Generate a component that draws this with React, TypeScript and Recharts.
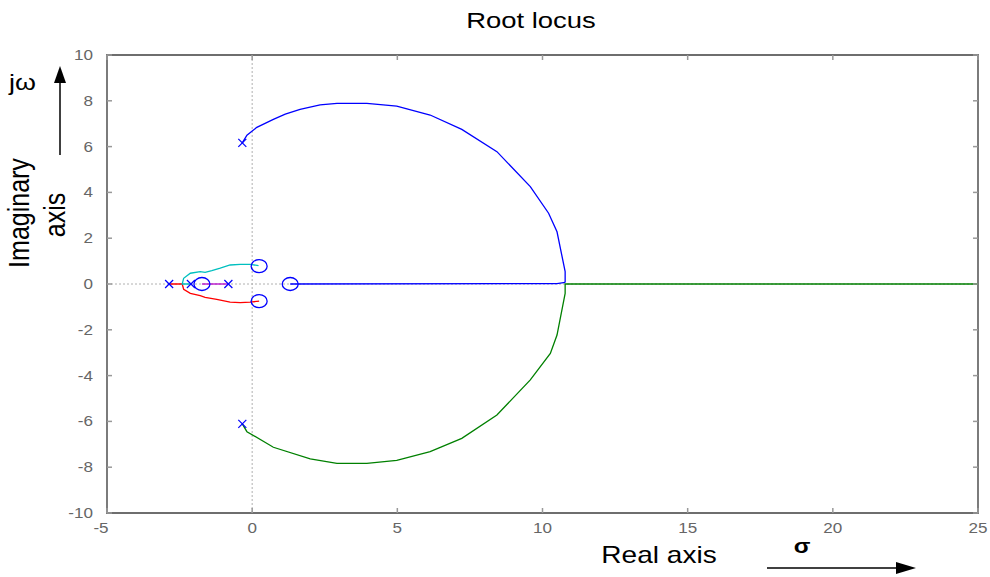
import React from 'react';
import {
  ScatterChart,
  Scatter,
  XAxis,
  YAxis,
  ReferenceLine,
  ReferenceArea,
} from 'recharts';

// Root locus branches, as (sigma, j omega) points
const upperBranch = [
  { x: -0.34, y: 6.16 }, { x: -0.18, y: 6.5 }, { x: 0.16, y: 6.84 }, { x: 0.73, y: 7.19 },
  { x: 1.14, y: 7.42 }, { x: 1.65, y: 7.63 }, { x: 2.34, y: 7.82 }, { x: 2.92, y: 7.89 },
  { x: 3.95, y: 7.89 }, { x: 4.98, y: 7.77 }, { x: 6.13, y: 7.38 }, { x: 7.22, y: 6.75 },
  { x: 8.43, y: 5.78 }, { x: 9.58, y: 4.25 }, { x: 10.21, y: 3.09 }, { x: 10.5, y: 2.28 },
  { x: 10.78, y: 0.54 }, { x: 10.78, y: 0.07 },
];

const realAxisBranch = [
  { x: 1.31, y: 0 }, { x: 10.5, y: 0.02 }, { x: 10.78, y: 0.07 },
];

const lowerBranch = [
  { x: -0.34, y: -6.11 }, { x: -0.18, y: -6.45 }, { x: 0.73, y: -7.13 }, { x: 2.0, y: -7.64 },
  { x: 2.92, y: -7.83 }, { x: 3.95, y: -7.83 }, { x: 4.98, y: -7.7 }, { x: 6.13, y: -7.32 },
  { x: 7.22, y: -6.74 }, { x: 8.43, y: -5.72 }, { x: 9.58, y: -4.19 }, { x: 10.27, y: -3.03 },
  { x: 10.5, y: -2.23 }, { x: 10.78, y: -0.41 }, { x: 10.78, y: 0 }, { x: 25, y: 0 },
];

const redBranch = [
  { x: -2.86, y: 0 }, { x: -2.41, y: 0 }, { x: -2.36, y: -0.23 }, { x: -2.13, y: -0.41 },
  { x: -1.79, y: -0.51 }, { x: -1.62, y: -0.58 }, { x: -1.22, y: -0.67 }, { x: -0.76, y: -0.79 },
  { x: -0.41, y: -0.81 }, { x: -0.07, y: -0.79 }, { x: 0.16, y: -0.76 }, { x: 0.24, y: -0.75 },
];

const cyanBranch = [
  { x: -2.11, y: 0 }, { x: -2.41, y: 0 }, { x: -2.36, y: 0.25 }, { x: -2.13, y: 0.47 },
  { x: -1.79, y: 0.54 }, { x: -1.62, y: 0.51 }, { x: -1.39, y: 0.58 }, { x: -1.1, y: 0.69 },
  { x: -0.76, y: 0.83 }, { x: -0.41, y: 0.86 }, { x: -0.07, y: 0.86 }, { x: 0.22, y: 0.8 },
];

const magentaBranch = [
  { x: -1.73, y: 0 }, { x: -0.82, y: 0 },
];

const poles = [
  { x: -2.86, y: 0 }, { x: -2.11, y: 0 }, { x: -0.82, y: 0 },
  { x: -0.34, y: 6.16 }, { x: -0.34, y: -6.11 },
];

const zeros = [
  { x: -1.73, y: 0 }, { x: 0.24, y: 0.78 }, { x: 0.24, y: -0.75 }, { x: 1.31, y: 0 },
];

const xTicks = [-5, 0, 5, 10, 15, 20, 25];
const yTicks = [-10, -8, -6, -4, -2, 0, 2, 4, 6, 8, 10];

// layout
const W = 990;
const H = 577;
const PLOT_LEFT = 107;
const PLOT_RIGHT = 978;
const PLOT_TOP = 55;
const PLOT_BOTTOM = 513;
const STRETCH = 1.22;
const FONT = 'Liberation Sans, Arial, sans-serif';

const tickColor = '#999';
const labelColor = '#666';

const XTick = (props: any) => {
  const x = props.x;
  const v = props.payload.value;
  // negative labels sit slightly left so the digit lines up with the tick
  const shift = v < 0 ? -6 : 0;
  return (
    <g>
      <line x1={x} x2={x} y1={PLOT_BOTTOM} y2={PLOT_BOTTOM - 5} stroke={tickColor} strokeWidth={1.5} />
      <line x1={x} x2={x} y1={PLOT_TOP} y2={PLOT_TOP + 5} stroke={tickColor} strokeWidth={1.5} />
      <text
        transform={`translate(${x + shift},${PLOT_BOTTOM + 20}) scale(${STRETCH},1)`}
        textAnchor="middle"
        fontFamily={FONT}
        fontSize={14}
        fill={labelColor}
      >
        {v}
      </text>
    </g>
  );
};

const YTick = (props: any) => {
  const y = props.y;
  return (
    <g>
      <line x1={PLOT_LEFT} x2={PLOT_LEFT + 5} y1={y} y2={y} stroke={tickColor} strokeWidth={1.5} />
      <line x1={PLOT_RIGHT} x2={PLOT_RIGHT - 5} y1={y} y2={y} stroke={tickColor} strokeWidth={1.5} />
      <text
        transform={`translate(${PLOT_LEFT - 14},${y + 5}) scale(${STRETCH},1)`}
        textAnchor="end"
        fontFamily={FONT}
        fontSize={14}
        fill={labelColor}
      >
        {props.payload.value}
      </text>
    </g>
  );
};

const Empty = () => <g />;

const PoleMark = (props: any) => {
  const { cx, cy } = props;
  const s = 4;
  return (
    <g stroke="#0000ff" strokeWidth={1.2}>
      <line x1={cx - s} y1={cy - s} x2={cx + s} y2={cy + s} />
      <line x1={cx - s} y1={cy + s} x2={cx + s} y2={cy - s} />
    </g>
  );
};

const ZeroMark = (props: any) => {
  const { cx, cy } = props;
  return <ellipse cx={cx} cy={cy} rx={8} ry={6.5} fill="none" stroke="#0000ff" strokeWidth={1.3} />;
};

const branch = (data: { x: number; y: number }[], color: string, key: string) => (
  <Scatter
    key={key}
    data={data}
    fill={color}
    line={{ stroke: color, strokeWidth: 1.3 }}
    shape={Empty}
    isAnimationActive={false}
    legendType="none"
  />
);

export default function App() {
  return (
    <div style={{ position: 'absolute', left: 0, top: 0, width: W, height: H, background: '#fff' }}>
      <ScatterChart
        width={W}
        height={H}
        margin={{ top: PLOT_TOP, right: W - PLOT_RIGHT, bottom: 0, left: 0 }}
      >
        <XAxis
          type="number"
          dataKey="x"
          domain={[-5, 25]}
          ticks={xTicks}
          interval={0}
          allowDataOverflow
          axisLine={false}
          tickLine={false}
          height={H - PLOT_BOTTOM}
          tick={<XTick />}
        />
        <YAxis
          type="number"
          dataKey="y"
          domain={[-10, 10]}
          ticks={yTicks}
          interval={0}
          allowDataOverflow
          axisLine={false}
          tickLine={false}
          width={PLOT_LEFT}
          tick={<YTick />}
        />
        <ReferenceLine x={0} stroke="#b0b0b0" strokeDasharray="2 2" strokeWidth={1} />
        <ReferenceLine y={0} stroke="#b0b0b0" strokeDasharray="2 2" strokeWidth={1} />
        <ReferenceArea
          x1={-5}
          x2={25}
          y1={-10}
          y2={10}
          fill="none"
          fillOpacity={0}
          stroke="#6e6e6e"
          strokeWidth={1.8}
          ifOverflow="visible"
        />
        {branch(upperBranch, '#0000ff', 'upper')}
        {branch(realAxisBranch, '#0000ff', 'real')}
        {branch(lowerBranch, '#008000', 'lower')}
        {branch(redBranch, '#ff0000', 'red')}
        {branch(cyanBranch, '#00bfbf', 'cyan')}
        {branch(magentaBranch, '#b400c8', 'magenta')}
        <Scatter data={poles} fill="#0000ff" shape={PoleMark} isAnimationActive={false} legendType="none" />
        <Scatter data={zeros} fill="#0000ff" shape={ZeroMark} isAnimationActive={false} legendType="none" />
      </ScatterChart>
      <svg
        width={W}
        height={H}
        style={{ position: 'absolute', left: 0, top: 0, pointerEvents: 'none' }}
      >
        <text
          transform={`translate(531,28) scale(${STRETCH},1)`}
          textAnchor="middle"
          fontFamily={FONT}
          fontSize={22.5}
          fill="#000"
        >
          Root locus
        </text>
        <text
          transform={`translate(659,563) scale(${STRETCH},1)`}
          textAnchor="middle"
          fontFamily={FONT}
          fontSize={23}
          fill="#000"
        >
          Real axis
        </text>
        <text
          transform={`translate(29,213) scale(1.15,1) rotate(-90)`}
          textAnchor="middle"
          fontFamily={FONT}
          fontSize={25}
          fill="#000"
        >
          Imaginary
        </text>
        <text
          transform={`translate(65,215) scale(1.15,1) rotate(-90)`}
          textAnchor="middle"
          fontFamily={FONT}
          fontSize={25}
          fill="#000"
        >
          axis
        </text>
        <text
          transform={`translate(9,90) scale(${STRETCH},1)`}
          textAnchor="start"
          fontFamily={FONT}
          fontSize={22}
          fill="#000"
        >
          jω
        </text>
        <text
          transform={`translate(802,553) scale(${STRETCH},1)`}
          textAnchor="middle"
          fontFamily={FONT}
          fontSize={20}
          fontWeight="bold"
          fill="#000"
        >
          σ
        </text>
        <line x1={60} y1={155} x2={60} y2={80} stroke="#000" strokeWidth={1.5} />
        <polygon points="60,66 54,83 66,83" fill="#000" />
        <line x1={767} y1={568} x2={898} y2={568} stroke="#000" strokeWidth={1.5} />
        <polygon points="916,568 896,562 896,574" fill="#000" />
      </svg>
    </div>
  );
}
